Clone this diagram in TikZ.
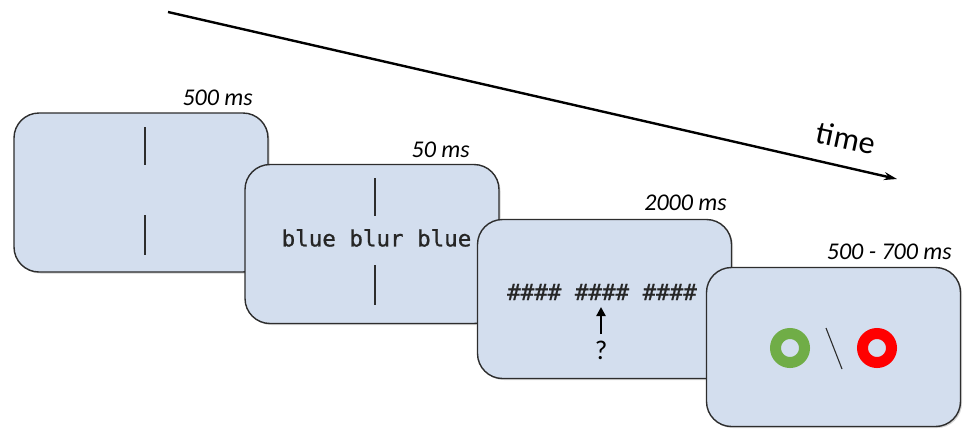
\documentclass[tikz,border=0pt]{standalone}
\usepackage{fontspec}
\setmainfont{Carlito}
\newfontfamily\stimfont{DejaVu Sans Mono}[FakeBold=0.8]
\usetikzlibrary{arrows.meta,shadows}
\definecolor{boxfill}{RGB}{211,222,238}
\definecolor{boxline}{RGB}{45,45,45}
\definecolor{ringgreen}{RGB}{112,173,71}
\definecolor{ringred}{RGB}{255,0,0}
\tikzset{
  screen/.style={draw=boxline, line width=1.4pt, fill=boxfill, rounded corners=25pt,
    minimum width=254pt, minimum height=159pt, inner sep=0pt,
    drop shadow={shadow xshift=1.5pt, shadow yshift=-1.5pt, opacity=0.35}},
  fixline/.style={draw=boxline, line width=1.3pt},
  durlabel/.style={font=\fontsize{24}{28}\selectfont\itshape, inner sep=0pt},
  stimtext/.style={font=\stimfont\fontsize{22.5}{26}\selectfont, inner sep=0pt, text=black!85},
  ring/.style={line width=11pt},
}
\begin{document}
\begin{tikzpicture}[x=1pt,y=-1pt]
\useasboundingbox (0,0) rectangle (964,429);
% time arrow
\coordinate (t0) at (168,12);
\coordinate (t1) at (897,179);
\draw[line width=2.4pt, -{Stealth[length=13pt,width=8pt]}] (t0) -- (t1);
\node[font=\fontsize{32}{36}\selectfont, rotate=-12, inner sep=0pt] (time) at (846,138) {time};
% screen 1
\node[screen] (s1) at (141,192.5) {};
\draw[fixline] (145,127) -- (145,165);
\draw[fixline] (145,215) -- (145,255);
\node[durlabel, anchor=base east] (d1) at (253,105) {500 ms};
% screen 2
\node[screen] (s2) at (372,244) {};
\draw[fixline] (375,178) -- (375,216);
\draw[fixline] (375,265) -- (375,305);
\node[stimtext] (w2) at (376.5,238) {blue blur blue};
\node[durlabel, anchor=base east] (d2) at (470,157) {50 ms};
% screen 3
\node[screen] (s3) at (604.5,299) {};
\node[stimtext] (w3) at (602,292) {\#\#\#\# \#\#\#\# \#\#\#\#};
\coordinate (a0) at (601,334);
\coordinate (a1) at (601,307);
\draw[line width=2.6pt, -{Triangle[length=9pt,width=9pt]}] (a0) -- (a1);
\node[font=\fontsize{27}{30}\selectfont, inner sep=0pt] (q) at (601,350) {?};
\node[durlabel, anchor=base east] (d3) at (727,210) {2000 ms};
% screen 4
\node[screen] (s4) at (833.5,347) {};
\draw[ringgreen, ring] (790,348) circle (14.5pt);
\draw[ringred, ring] (877,348) circle (14.5pt);
\draw[fixline, line width=1.1pt] (826,328) -- (842,369);
\node[durlabel, anchor=base east] (d4) at (952,259) {500 - 700 ms};
\end{tikzpicture}
\end{document}
